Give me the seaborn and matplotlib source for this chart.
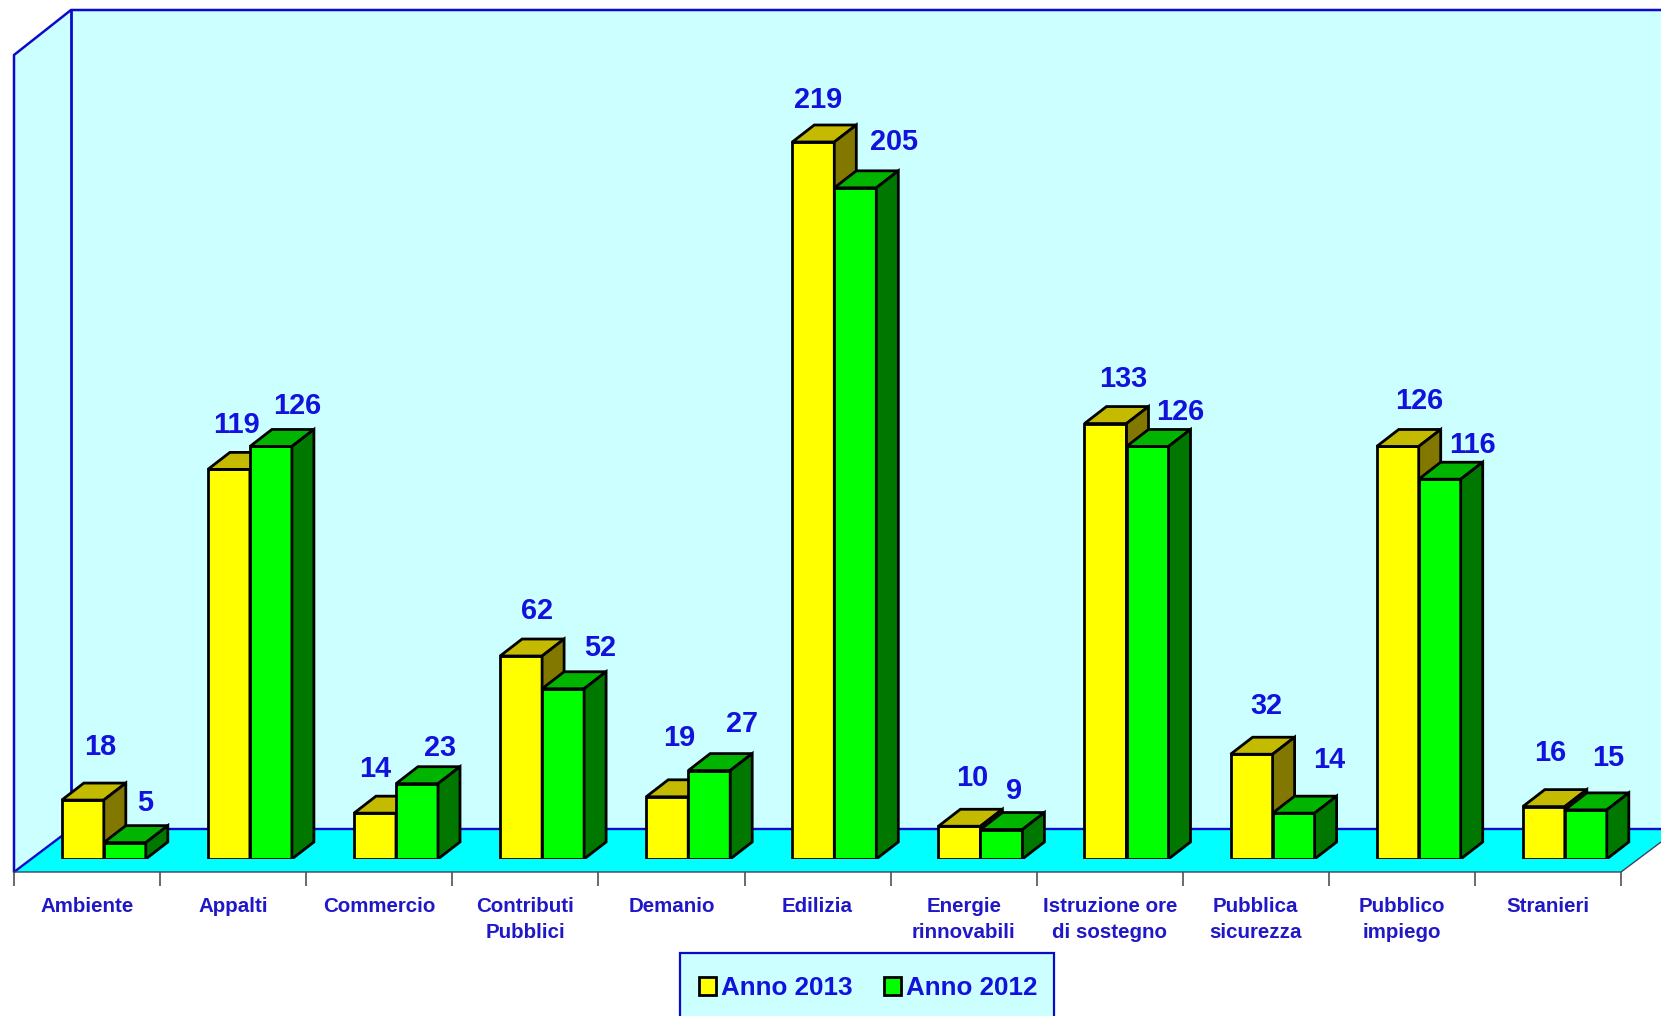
import pandas as pd
import matplotlib
matplotlib.use("Agg")
import matplotlib.pyplot as plt
from matplotlib.patches import Polygon, Rectangle
import seaborn as sns

# Data
materie = ["Ambiente", "Appalti", "Commercio", "Contributi\nPubblici", "Demanio", "Edilizia",
           "Energie\nrinnovabili", "Istruzione ore\ndi sostegno", "Pubblica\nsicurezza",
           "Pubblico\nimpiego", "Stranieri"]
anno_2013 = [18, 119, 14, 62, 19, 219, 10, 133, 32, 126, 16]
anno_2012 = [5, 126, 23, 52, 27, 205, 9, 126, 14, 116, 15]

# Hand placed value labels, pixels away from the top centre of each bar
nudge_x_2013 = [17, 8, 0, 16, 12, 5, 13, 18, 15, 21, 6]
nudge_y_2013 = [53, 44, 44, 45, 59, 42, 48, 45, 48, 45, 54]
nudge_x_2012 = [20, 26, 23, 37, 33, 39, 13, 33, 36, 33, 22]
nudge_y_2012 = [40, 40, 36, 41, 47, 46, 39, 34, 53, 34, 52]

BLUE = "#1212DC"
LINE_BLUE = "#0A0ACD"
WALL = "#CCFFFF"
FLOOR = "#00FFFF"
W, H = 1661, 1016
UNIT = 3.274       # pixels per case
STEP = 146.1       # pixels per category
DEPTH_X, DEPTH_Y = 22, 17
EDGE = 2.0

df = pd.DataFrame({
    "materia": materie * 2,
    "ricorsi": anno_2013 + anno_2012,
    "anno": ["Anno 2013"] * len(materie) + ["Anno 2012"] * len(materie),
})

sns.set_style("white")
plt.rcParams["font.family"] = ["Liberation Sans", "DejaVu Sans"]
plt.rcParams["font.weight"] = "bold"

fig = plt.figure(figsize=(W / 100, H / 100), dpi=100)

# -------------------------
# Background box, pixel coordinates
# -------------------------
bg = fig.add_axes([0, 0, 1, 1])
bg.set_xlim(0, W)
bg.set_ylim(H, 0)
bg.axis("off")

bg.add_patch(Polygon([(14, 55), (71, 10), (71, 829), (14, 872)], fc=WALL, ec="none"))
bg.add_patch(Polygon([(71, 10), (W, 10), (W, 829), (71, 829)], fc=WALL, ec="none"))
bg.add_patch(Polygon([(14, 872), (71, 829), (W, 829), (W, 842), (1621, 872)], fc=FLOOR, ec="none"))
bg.plot([14, 14, 71, W], [872, 55, 10, 10], color=LINE_BLUE, lw=1.8)
bg.plot([71, 71], [10, 829], color=LINE_BLUE, lw=2.0)
bg.plot([14, 71, W], [872, 829, 829], color=LINE_BLUE, lw=1.7)
bg.plot([14, 1621, W], [872, 872, 842], color="#404060", lw=1.0)

ticks = [14 + STEP * i for i in range(len(materie) + 1)]
bg.vlines(ticks, 872, 886, color="#505050", lw=1.2)
for i, name in enumerate(materie):
    bg.text(ticks[i] + STEP / 2, 897, name, ha="center", va="top", color="#2018C8",
            fontsize=14.8, linespacing=1.5)

# legend box runs off the bottom of the picture
bg.add_patch(Rectangle((680, 953), 374, 70, fc=WALL, ec=LINE_BLUE, lw=1.6))

# -------------------------
# Bars
# -------------------------
left = 103.8 - STEP / 2
base = 859
ax = fig.add_axes([left / W, (H - base) / H, STEP * len(materie) / W, base / H])
ax.patch.set_alpha(0)

sns.barplot(data=df, x="materia", y="ricorsi", hue="anno",
            hue_order=["Anno 2013", "Anno 2012"],
            palette=["#FFFF00", "#00FF00"], saturation=1,
            width=0.575, gap=0, edgecolor="black", linewidth=EDGE, ax=ax)
ax.set_xlim(-0.5, len(materie) - 0.5)
ax.set_ylim(0, base / UNIT)
ax.set_xlabel("")
ax.set_ylabel("")
ax.set_xticks([])
ax.set_yticks([])
sns.despine(ax=ax, left=True, bottom=True)

dx = DEPTH_X / STEP
dy = DEPTH_Y / UNIT
shades = [("#C4BA00", "#827800"), ("#00B400", "#007800")]
nudges = [(nudge_x_2013, nudge_y_2013), (nudge_x_2012, nudge_y_2012)]

for g, bars in enumerate(ax.containers):
    top_col, side_col = shades[g]
    nx, ny = nudges[g]
    for i, bar in enumerate(bars):
        x0 = bar.get_x()
        x1 = x0 + bar.get_width()
        h = bar.get_height()
        bar.set_zorder(3 + g)
        ax.add_patch(Polygon([(x0, h), (x0 + dx, h + dy), (x1 + dx, h + dy), (x1, h)],
                             fc=top_col, ec="black", lw=EDGE, zorder=3 + g, joinstyle="miter"))
        ax.add_patch(Polygon([(x1, 0), (x1 + dx, dy), (x1 + dx, h + dy), (x1, h)],
                             fc=side_col, ec="black", lw=EDGE, zorder=3 + g, joinstyle="miter"))
        ax.annotate(str(int(h)), xy=((x0 + x1) / 2, h), xytext=(nx[i], ny[i]),
                    textcoords="offset pixels", ha="center", va="center",
                    color=BLUE, fontsize=20.8, zorder=10, annotation_clip=False)

# -------------------------
# Legend
# -------------------------
sns.move_legend(ax, loc="center", bbox_to_anchor=(868 / W, 1 - 988 / H),
                bbox_transform=fig.transFigure, ncol=2, title=None, frameon=False,
                fontsize=18.7, handlelength=0.66, handleheight=0.66, handletextpad=0.2,
                columnspacing=1.2, borderpad=0, borderaxespad=0, labelcolor=BLUE)

fig.savefig("out.png", dpi=100)
